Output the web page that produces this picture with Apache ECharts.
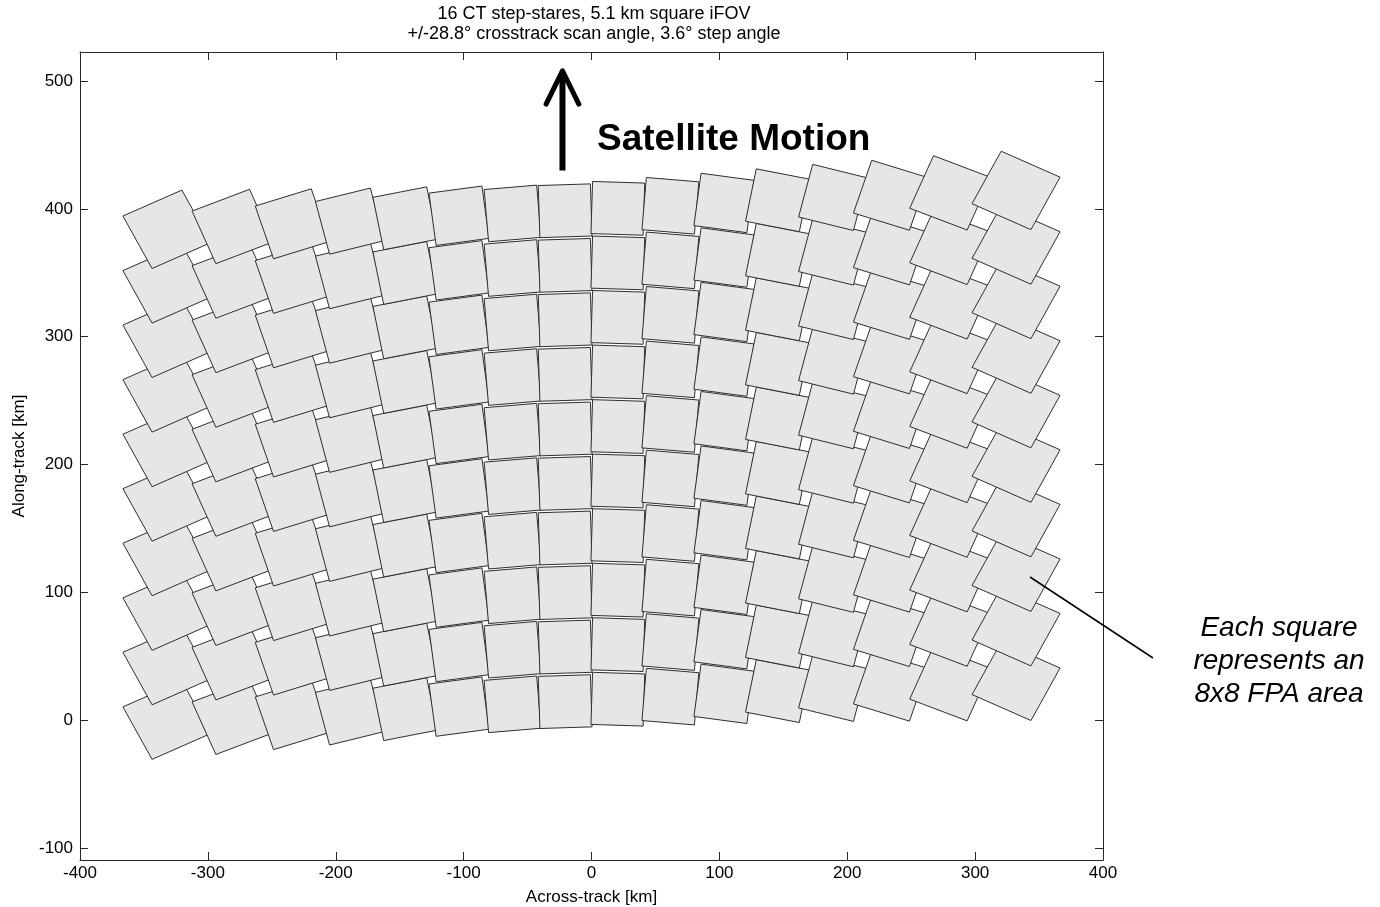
<!DOCTYPE html>
<html>
<head>
<meta charset="utf-8">
<title>CT step-stare footprints</title>
<script src="https://cdn.jsdelivr.net/npm/echarts@6/dist/echarts.min.js"></script>
<style>
  html, body { margin: 0; padding: 0; background: #fff; overflow: hidden; }
  #chart { width: 1380px; height: 907px; }
</style>
</head>
<body>
<div id="chart"></div>
<script>
// across-track centre of each of the 16 step-stares [km]
const columnX = [-332, -280.6, -233.9, -188.9, -145.7, -103.6, -61.7, -20.6,
                 20.6, 61.7, 103.6, 145.7, 188.9, 233.9, 280.6, 332];
// along-track centre of the first (bottom) scan for each step [km]
const bottomRowY = [0, 2.2, 4.3, 6.4, 8.6, 10.6, 12.4, 14.5,
                    16.4, 18.4, 20.6, 22.7, 24.9, 26.6, 28.5, 30.4];
// footprint rotation per step [deg]
const rotationDeg = [26.3, 22.5, 18.1, 14.4, 11.3, 7.7, 4.8, 1.8,
                     -1.8, -4.8, -7.7, -11.3, -14.4, -18.1, -22.5, -26.3];
// projected footprint size per step [km]
const footprintW = [51.4, 48.6, 46.1, 44.3, 42.9, 41.8, 41.2, 40.8,
                    40.8, 41.2, 41.8, 42.9, 44.3, 46.1, 48.6, 51.4];
const footprintH = [45.8, 44.5, 43.4, 42.5, 41.8, 41.3, 41.0, 40.8,
                    40.8, 41.0, 41.3, 41.8, 42.5, 43.4, 44.5, 45.8];
// along-track offset of each scan [km]
const rowOffsets = [0, 42.7, 85.3, 128.0, 170.7, 213.3, 256.0, 298.7, 341.3, 384.0];

const xTicks = [-400, -300, -200, -100, 0, 100, 200, 300, 400];
const yTicks = [-100, 0, 100, 200, 300, 400, 500];

// arrow for satellite motion, data coords
const arrowShaft = [[-22.7, 430], [-22.7, 505]];
const arrowHead = [[-35.5, 482], [-22.7, 508], [-9.9, 482]];

const squares = [];
rowOffsets.forEach((dy) => {
  columnX.forEach((x, c) => {
    squares.push([x, bottomRowY[c] + dy, rotationDeg[c], footprintW[c], footprintH[c]]);
  });
});

const FONT = 'Liberation Sans, Arial, sans-serif';
const AX = '#262626';

const chart = echarts.init(document.getElementById('chart'), null, { width: 1380, height: 907 });

function renderSquare(params, api) {
  const cx = api.value(0);
  const cy = api.value(1);
  const a = api.value(2) * Math.PI / 180;
  const w = api.value(3);
  const h = api.value(4);
  const pts = [[-0.5, -0.5], [0.5, -0.5], [0.5, 0.5], [-0.5, 0.5]].map(([u, v]) => {
    const x = u * Math.cos(a) - v * Math.sin(a);
    const y = u * Math.sin(a) + v * Math.cos(a);
    return api.coord([cx + x * w, cy + y * h]);
  });
  return {
    type: 'polygon',
    shape: { points: pts },
    style: { fill: '#e6e6e6', stroke: '#2e2e2e', lineWidth: 1 },
  };
}

const yLabel = (v) => (yTicks.indexOf(Math.round(v * 1000) / 1000) >= 0 ? String(v) : '');

const boxLine = { onZero: false, lineStyle: { color: AX, width: 1 } };
const boxTick = { show: true, inside: true, length: 8, lineStyle: { color: AX } };

chart.setOption({
  animation: false,
  title: {
    text: '16 CT step-stares, 5.1 km square iFOV\n+/-28.8\u00b0 crosstrack scan angle, 3.6\u00b0 step angle',
    left: 589,
    top: -1,
    textAlign: 'center',
    textStyle: { fontFamily: FONT, fontSize: 18, fontWeight: 'normal', color: '#000', lineHeight: 20 },
  },
  grid: {
    left: 80, top: 52, width: 1023, height: 808,
    containLabel: false,
    outerBoundsMode: 'none',
  },
  xAxis: [
    {
      type: 'value',
      position: 'bottom',
      min: xTicks[0],
      max: xTicks[xTicks.length - 1],
      interval: 100,
      name: 'Across-track [km]',
      nameLocation: 'middle',
      nameGap: 29,
      nameTextStyle: { fontFamily: FONT, fontSize: 17, color: '#000' },
      axisLine: boxLine,
      axisTick: boxTick,
      axisLabel: { fontFamily: FONT, fontSize: 17, color: '#000', margin: 5 },
      splitLine: { show: false },
    },
    {
      type: 'value',
      position: 'top',
      min: xTicks[0],
      max: xTicks[xTicks.length - 1],
      interval: 100,
      axisLine: boxLine,
      axisTick: boxTick,
      axisLabel: { show: false },
      splitLine: { show: false },
    },
  ],
  yAxis: [
    {
      type: 'value',
      position: 'left',
      min: -109.4,
      max: 522.7,
      splitNumber: 6,
      name: 'Along-track [km]',
      nameLocation: 'middle',
      nameGap: 44,
      nameTextStyle: { fontFamily: FONT, fontSize: 17, color: '#000' },
      axisLine: { show: true, ...boxLine },
      axisTick: boxTick,
      axisLabel: { fontFamily: FONT, fontSize: 17, color: '#000', margin: 7, formatter: yLabel },
      splitLine: { show: false },
    },
    {
      type: 'value',
      position: 'right',
      min: -109.4,
      max: 522.7,
      splitNumber: 6,
      axisLine: { show: true, ...boxLine },
      axisTick: boxTick,
      axisLabel: { show: false },
      splitLine: { show: false },
    },
  ],
  series: [
    {
      type: 'custom',
      name: 'footprints',
      xAxisIndex: 0,
      yAxisIndex: 0,
      renderItem: renderSquare,
      data: squares,
      clip: true,
      z: 2,
    },
    {
      type: 'line',
      xAxisIndex: 0,
      yAxisIndex: 0,
      data: arrowShaft,
      symbol: 'none',
      lineStyle: { color: '#000', width: 6, cap: 'butt' },
      z: 5,
    },
    {
      type: 'line',
      xAxisIndex: 0,
      yAxisIndex: 0,
      data: arrowHead,
      symbol: 'none',
      lineStyle: { color: '#000', width: 5, cap: 'round', join: 'round' },
      z: 5,
    },
  ],
  graphic: [
    {
      type: 'text',
      left: 597,
      top: 121,
      z: 10,
      style: { text: 'Satellite Motion', font: 'bold 37px ' + FONT, fill: '#000' },
    },
    {
      type: 'line',
      z: 10,
      shape: { x1: 1030, y1: 577, x2: 1153, y2: 658 },
      style: { stroke: '#000', lineWidth: 1.5 },
    },
    {
      type: 'text',
      x: 1279,
      y: 612,
      z: 10,
      style: {
        text: 'Each square\nrepresents an\n8x8 FPA area',
        font: 'italic 28px ' + FONT,
        fill: '#000',
        align: 'center',
        lineHeight: 33,
      },
    },
  ],
});
</script>
</body>
</html>
